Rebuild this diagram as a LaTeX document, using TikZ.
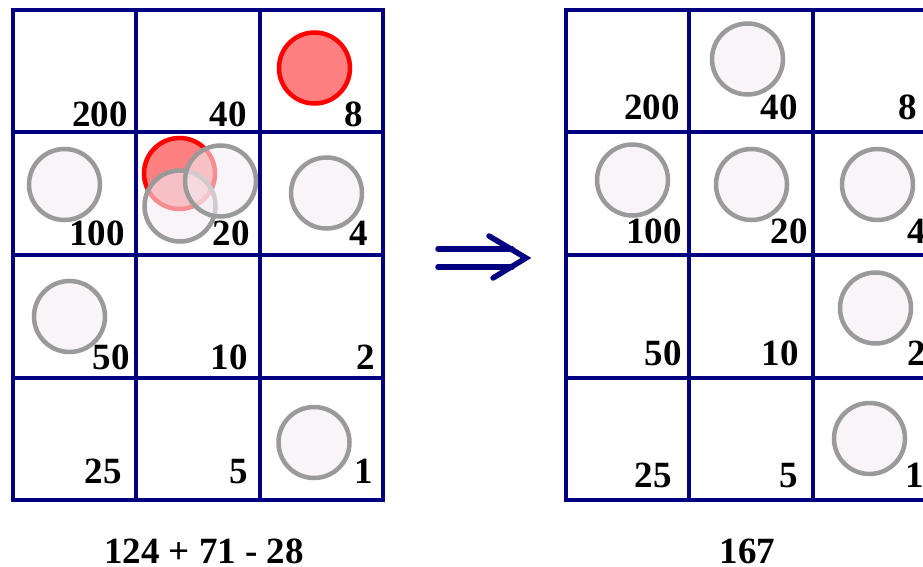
\documentclass[tikz,border=0pt]{standalone}
\usepackage{fontspec}
\setmainfont{Liberation Serif}
\definecolor{gridblue}{HTML}{000080}
\definecolor{tokenfill}{HTML}{F3ECF3}
\definecolor{tokenline}{HTML}{9A9A9A}
\usetikzlibrary{arrows.meta}

\begin{document}
\begin{tikzpicture}[
  x=1pt, y=-1pt,
  gridline/.style={gridblue, line width=4pt, line cap=rect},
  arrowline/.style={gridblue, line width=5.5pt, line cap=round, line join=miter},
  val/.style={font=\fontsize{37}{37}\selectfont\bfseries, inner sep=0pt, anchor=base east},
  token/.style={circle, draw=tokenline, fill=tokenfill, fill opacity=0.6, line width=4.5pt, minimum size=71pt, inner sep=0pt},
  hot/.style={circle, draw=red, fill=red!50, line width=4.5pt, minimum size=71pt, inner sep=0pt},
]
\useasboundingbox (0,0) rectangle (923,567);

% Grids
\foreach \gx in {12.5, 565.5} {
  \foreach \r in {0,...,4} {
    \draw[gridline] (\gx, 10+\r*122.5) -- ++(370.5,0);
  }
  \foreach \c in {0,...,3} {
    \draw[gridline] (\gx+\c*123.5, 10) -- ++(0,490);
  }
}

% Values, left grid
\foreach \v/\x/\y in {200/128/127, 40/247/127, 8/363/127,
                      100/125/245, 20/250/245, 4/368/245,
                      50/130/369, 10/248/369, 2/375/369,
                      25/122/483, 5/248/483, 1/373/483} {
  \node[val] (l\v) at (\x,\y) {\v};
}

% Values, right grid
\foreach \v/\x/\y in {200/680/120, 40/798/120, 8/917/120,
                      100/682/243, 20/808/243, 4/926/243,
                      50/682/365, 10/799/365, 2/926/365,
                      25/672/487, 5/798/487, 1/924/487} {
  \node[val] (r\v) at (\x,\y) {\v};
}

% Counters, left
\node[hot] (hotA) at (314.5,68) {};
\node[hot] (hotB) at (179.5,173.5) {};
\node[token] (lt1) at (64.5,184.5) {};
\node[token] (lt2) at (180,206) {};
\node[token] (lt3) at (220.5,181) {};
\node[token] (lt4) at (326.5,193) {};
\node[token] (lt5) at (69.5,316.5) {};
\node[token] (lt6) at (314,442.5) {};

% Counters, right
\node[token] (rt1) at (747.5,59) {};
\node[token] (rt2) at (632.5,180) {};
\node[token] (rt3) at (751.5,184.5) {};
\node[token] (rt4) at (877.5,184.5) {};
\node[token] (rt5) at (875.5,308) {};
\node[token] (rt6) at (869.5,438.5) {};

% Arrow
\coordinate (arrowstart) at (438,258);
\coordinate (arrowend) at (526,258);
\draw[arrowline] ([yshift=9pt]arrowstart) -- ([xshift=-14pt, yshift=9pt]arrowend);
\draw[arrowline] ([yshift=-9pt]arrowstart) -- ([xshift=-14pt, yshift=-9pt]arrowend);
\draw[arrowline] ([xshift=-37pt, yshift=22pt]arrowend) -- (arrowend) -- ([xshift=-33pt, yshift=-20pt]arrowend);

% Sums
\node[font=\fontsize{37}{37}\selectfont\bfseries, inner sep=0pt, anchor=base] (sumleft) at (204,563) {124 + 71 - 28};
\node[font=\fontsize{37}{37}\selectfont\bfseries, inner sep=0pt, anchor=base] (sumright) at (747.5,563) {167};
\end{tikzpicture}
\end{document}
